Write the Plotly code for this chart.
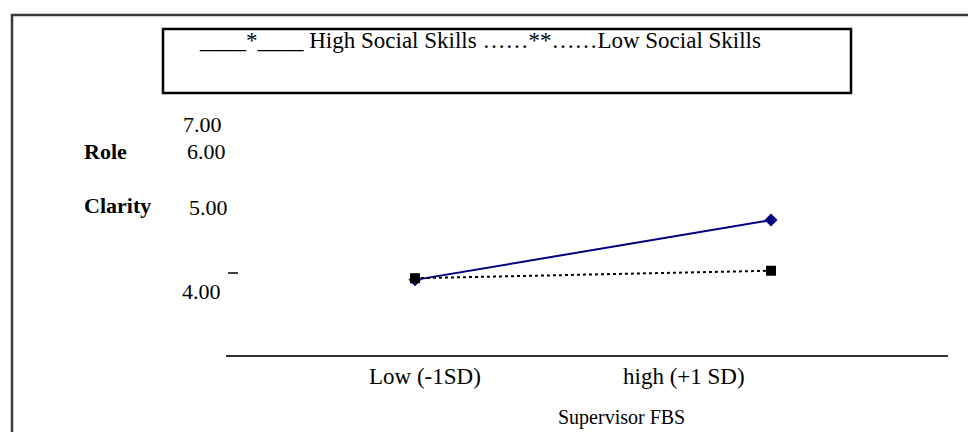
import plotly.graph_objects as go

# ---------------- data ----------------
categories = ["Low (-1SD)", "high (+1 SD)"]
high_social = [4.11, 4.83]
low_social = [4.13, 4.22]
series_names = ["High Social Skills", "Low Social Skills"]
y_tick_labels = ["7.00", "6.00", "5.00", "4.00"]
y_title_lines = ["Role", "Clarity"]
x_title = "Supervisor FBS"
legend_text = "____*____ High Social Skills ……**……Low Social Skills"

# ---------------- geometry (pixels) ----------------
W, H = 976, 432


def px(x):
    return x / W


def py(y):
    return 1 - y / H


AX_L, AX_R = 218, 940          # x-axis line extent
AX_BOTTOM, AX_TOP = 347, 100   # plot area vertical extent
CAT0_PIX, CAT1_PIX = 407, 763  # where the two categories sit
Y4_PIX, PIX_PER_UNIT = 281, 83  # y scale

x_unit = CAT1_PIX - CAT0_PIX
x_range = [-(CAT0_PIX - AX_L) / x_unit, 1 + (AX_R - CAT1_PIX) / x_unit]
y_range = [4 - (AX_BOTTOM - Y4_PIX) / PIX_PER_UNIT, 4 + (Y4_PIX - AX_TOP) / PIX_PER_UNIT]

FONT = "Liberation Serif, Times New Roman, serif"

fig = go.Figure()
fig.add_trace(go.Scatter(
    x=list(range(len(categories))), y=high_social, name=series_names[0],
    mode="lines+markers",
    line=dict(color="#000080", width=2),
    marker=dict(symbol="diamond", size=10, color="#000080"),
))
fig.add_trace(go.Scatter(
    x=list(range(len(categories))), y=low_social, name=series_names[1],
    mode="lines+markers",
    line=dict(color="#000000", width=2, dash="dot"),
    marker=dict(symbol="square", size=10, color="#000000"),
))

fig.update_layout(
    width=W, height=H,
    margin=dict(l=0, r=0, t=0, b=0),
    paper_bgcolor="white", plot_bgcolor="white",
    showlegend=False,
    font=dict(family=FONT, size=22, color="black"),
    xaxis=dict(
        domain=[px(AX_L), px(AX_R)], range=x_range,
        showline=True, linecolor="#333333", linewidth=1.5,
        showgrid=False, zeroline=False, showticklabels=False, ticks="",
    ),
    yaxis=dict(
        domain=[py(AX_BOTTOM), py(AX_TOP)], range=y_range,
        showline=False, showgrid=False, zeroline=False,
        showticklabels=False, ticks="",
    ),
)

annotations = []
# legend text
annotations.append(dict(text=legend_text, x=px(189), y=py(33), xref="paper", yref="paper",
                        xanchor="left", yanchor="middle", showarrow=False,
                        font=dict(size=23)))
# y tick labels (as placed in original)
y_label_pos = [(216, 117), (220, 143), (222, 199), (215, 283)]
for lab, (xx, yy) in zip(y_tick_labels, y_label_pos):
    annotations.append(dict(text=lab, x=px(xx), y=py(yy), xref="paper", yref="paper",
                            xanchor="right", yanchor="middle", showarrow=False,
                            font=dict(size=22)))
# y title
for lab, (xx, yy) in zip(y_title_lines, [(74, 143), (74, 198)]):
    annotations.append(dict(text="<b>" + lab + "</b>", x=px(xx), y=py(yy), xref="paper", yref="paper",
                            xanchor="left", yanchor="middle", showarrow=False,
                            font=dict(size=22)))
# x category labels
for lab, xx in zip(categories, [417, 676]):
    annotations.append(dict(text=lab, x=px(xx), y=py(368), xref="paper", yref="paper",
                            xanchor="center", yanchor="middle", showarrow=False,
                            font=dict(size=23)))
# x title
annotations.append(dict(text=x_title, x=px(613), y=py(409), xref="paper", yref="paper",
                        xanchor="center", yanchor="middle", showarrow=False,
                        font=dict(size=20)))
fig.update_layout(annotations=annotations)

shapes = [
    # outer frame (left, top, right)
    dict(type="path", xref="paper", yref="paper",
         path=f"M {px(4)} {py(440)} L {px(4)} {py(7)} L {px(974)} {py(7)} L {px(974)} {py(440)}",
         line=dict(color="#3a3a3a", width=2.5)),
    # legend box
    dict(type="rect", xref="paper", yref="paper",
         x0=px(155), x1=px(843), y0=py(85), y1=py(21),
         line=dict(color="black", width=2.5)),
    # small stray tick near 4.00
    dict(type="line", xref="paper", yref="paper",
         x0=px(220), x1=px(230), y0=py(265), y1=py(265),
         line=dict(color="black", width=1.5)),
]
fig.update_layout(shapes=shapes)

fig.write_html("out.html")
